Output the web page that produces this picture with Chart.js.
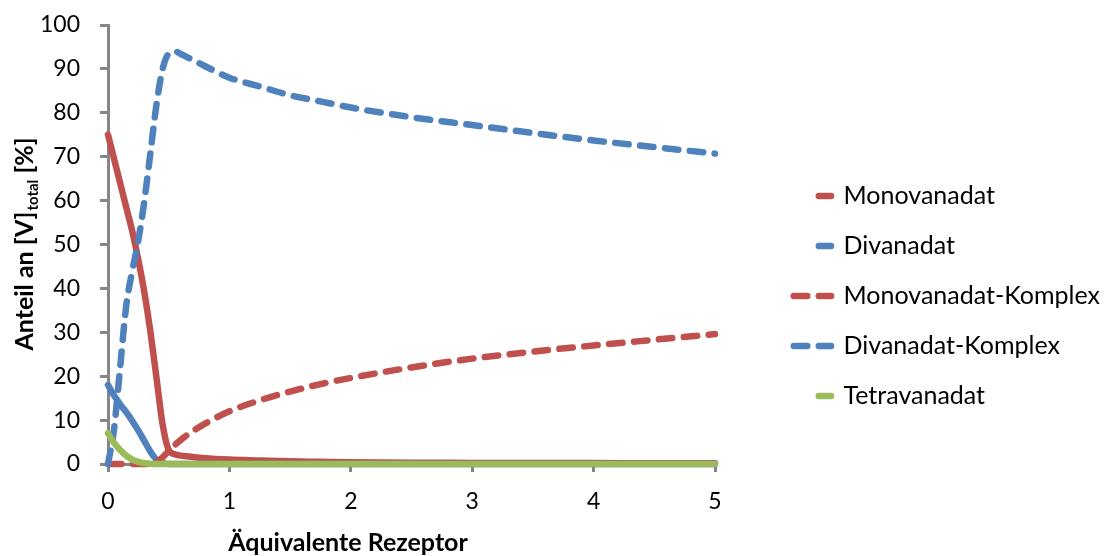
<!DOCTYPE html>
<html>
<head>
<meta charset="utf-8">
<script src="https://cdn.jsdelivr.net/npm/chart.js@4/dist/chart.umd.min.js"></script>
<style>
  body { margin: 0; background: #fff; }
</style>
</head>
<body>
<canvas id="chart" width="1104" height="556"></canvas>
<script>
// x = equivalents of receptor added
const xValues = [0, 0.05, 0.1, 0.15, 0.2, 0.25, 0.3, 0.35, 0.4, 0.45, 0.5, 0.55, 0.6, 0.7, 0.8, 1, 1.25, 1.5, 1.75, 2, 2.5, 3, 3.5, 4, 4.5, 5];

const monovanadat = [75, 69.5, 64, 58.5, 53, 46.5, 39, 30, 19.5, 9, 3.2, 2.2, 1.9, 1.6, 1.3, 1.0, 0.8, 0.6, 0.5, 0.4, 0.3, 0.25, 0.2, 0.2, 0.15, 0.15];
const divanadat = [18, 15.6, 13.6, 11.8, 9.8, 7.6, 5.2, 2.8, 1, 0.2, 0, 0, 0, 0, 0, 0, 0, 0, 0, 0, 0, 0, 0, 0, 0, 0];
const monoKomplex = [0, 0, 0, 0, 0, 0, 0, 0, 0.5, 1.5, 3, 4.3, 5.5, 7.5, 9.2, 12, 14.5, 16.5, 18.2, 19.6, 22, 24, 25.6, 27, 28.3, 29.6];
const diKomplex = [0, 8, 22, 36, 44, 51, 60, 71, 82, 90, 93.5, 94, 93.4, 92, 90.6, 88, 86, 84, 82.6, 81.2, 79, 77.2, 75.4, 73.7, 72.2, 70.7];
const tetravanadat = [7, 4.8, 3.2, 1.9, 1, 0.5, 0.2, 0.05, 0, 0, 0, 0, 0, 0, 0, 0, 0, 0, 0, 0, 0, 0, 0, 0, 0, 0];

const seriesNames = ['Monovanadat', 'Divanadat', 'Monovanadat-Komplex', 'Divanadat-Komplex', 'Tetravanadat'];
const xTicks = [0, 1, 2, 3, 4, 5];
const yTicks = [0, 10, 20, 30, 40, 50, 60, 70, 80, 90, 100];

const xTitle = 'Äquivalente Rezeptor';
const yTitleMain = 'Anteil an [V]';
const yTitleSub = 'total';
const yTitleEnd = ' [%]';

const red = '#C0504D';
const blue = '#4F81BD';
const green = '#9BBB59';
const axisGray = '#868686';
const fontFamily = 'Lato';

const toPoints = ys => xValues.map((x, i) => ({ x: x, y: ys[i] }));

const makeSet = (label, ys, color, dashed, order) => ({
  label: label,
  data: toPoints(ys),
  borderColor: color,
  backgroundColor: color,
  borderWidth: 6.5,
  borderDash: dashed ? [13.5, 11.5] : [],
  borderCapStyle: 'round',
  borderJoinStyle: 'round',
  pointRadius: 0,
  pointHoverRadius: 0,
  cubicInterpolationMode: 'monotone',
  fill: false,
  clip: false,
  order: order
});

// axis titles drawn by hand: the y title needs a subscript
const axisTitles = {
  id: 'axisTitles',
  afterDraw(chart) {
    const ctx = chart.ctx;
    const area = chart.chartArea;
    ctx.save();
    ctx.fillStyle = '#000';
    ctx.textBaseline = 'alphabetic';
    ctx.textAlign = 'left';

    ctx.font = 'bold 25px ' + fontFamily;
    const xw = ctx.measureText(xTitle).width;
    ctx.fillText(xTitle, area.left + 240 - xw / 2, 551);

    const mainFont = 'bold 25px ' + fontFamily;
    const subFont = 'bold 15px ' + fontFamily;
    ctx.font = mainFont;
    const w1 = ctx.measureText(yTitleMain).width;
    const w3 = ctx.measureText(yTitleEnd).width;
    ctx.font = subFont;
    const w2 = ctx.measureText(yTitleSub).width;
    const total = w1 + w2 + w3;

    ctx.translate(33, (area.top + area.bottom) / 2);
    ctx.rotate(-Math.PI / 2);
    let pos = -total / 2;
    ctx.font = mainFont;
    ctx.fillText(yTitleMain, pos, 0);
    pos += w1 + 1;
    ctx.font = subFont;
    ctx.fillText(yTitleSub, pos, 5);
    pos += w2;
    ctx.font = mainFont;
    ctx.fillText(yTitleEnd, pos, 0);
    ctx.restore();
  }
};

const baseLabels = Chart.defaults.plugins.legend.labels.generateLabels;

new Chart(document.getElementById('chart'), {
  type: 'line',
  data: {
    datasets: [
      makeSet(seriesNames[0], monovanadat, red, false, 5),
      makeSet(seriesNames[1], divanadat, blue, false, 4),
      makeSet(seriesNames[2], monoKomplex, red, true, 3),
      makeSet(seriesNames[3], diKomplex, blue, true, 2),
      makeSet(seriesNames[4], tetravanadat, green, false, 1)
    ]
  },
  options: {
    responsive: false,
    animation: false,
    devicePixelRatio: 1,
    layout: { padding: { top: 25, left: 0, right: -6, bottom: 0 } },
    plugins: {
      tooltip: { enabled: false },
      legend: {
        position: 'right',
        align: 'center',
        maxWidth: 500,
        title: { display: true, text: '', font: { size: 5 }, padding: { top: 5, bottom: 0 } },
        labels: {
          usePointStyle: true,
          pointStyle: 'line',
          pointStyleWidth: 40,
          padding: 25,
          color: '#000',
          font: { family: fontFamily, size: 25 },
          sort: (a, b) => a.datasetIndex - b.datasetIndex,
          generateLabels: chart => baseLabels(chart).map(item => {
            const dashed = chart.data.datasets[item.datasetIndex].borderDash.length > 0;
            item.lineCap = 'round';
            item.lineWidth = 6.5;
            item.pointStyle = 'line';
            item.lineDash = dashed ? [13.5, 11.5] : [13.5, 100];
            item.lineDashOffset = dashed ? -2.75 : -27.75;
            return item;
          })
        }
      }
    },
    scales: {
      x: {
        type: 'linear',
        min: 0,
        max: 5,
        afterBuildTicks: s => { s.ticks = xTicks.map(v => ({ value: v })); },
        afterFit: s => { s.height = 92; },
        grid: { drawOnChartArea: false, drawTicks: true, tickLength: 8, tickWidth: 3, tickColor: axisGray, color: axisGray },
        border: { color: axisGray, width: 3 },
        ticks: { color: '#000', padding: 16, font: { family: fontFamily, size: 23 }, maxRotation: 0 }
      },
      y: {
        type: 'linear',
        min: 0,
        max: 100,
        afterBuildTicks: s => { s.ticks = yTicks.map(v => ({ value: v })); },
        afterFit: s => { s.width = 108; s.paddingTop = 0; },
        grid: { drawOnChartArea: false, drawTicks: true, tickLength: 8, tickWidth: 3, tickColor: axisGray, color: axisGray },
        border: { color: axisGray, width: 3 },
        ticks: { color: '#000', padding: 20, font: { family: fontFamily, size: 23 } }
      },
      gap: {
        type: 'linear',
        position: 'right',
        display: true,
        afterFit: s => { s.width = Math.max(0, s.chart.width + 6 - s.chart.legend.width - 715); },
        grid: { display: false },
        border: { display: false },
        ticks: { display: false }
      }
    }
  },
  plugins: [axisTitles]
});
</script>
</body>
</html>
